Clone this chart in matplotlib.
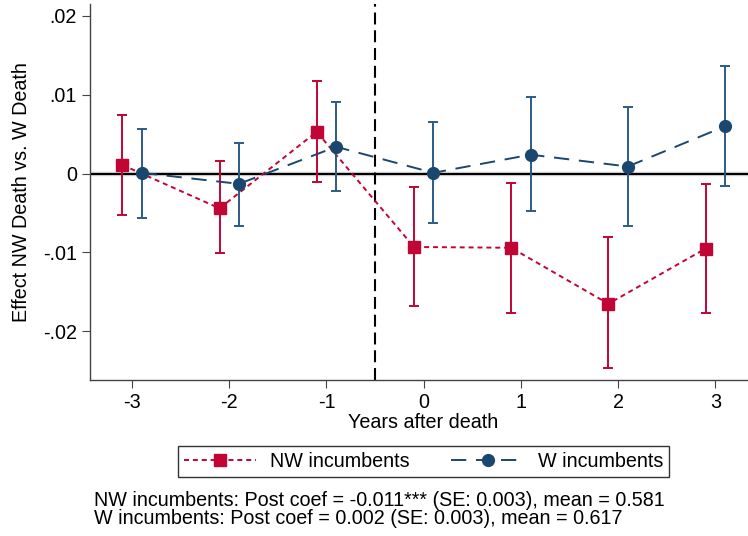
import numpy as np
import matplotlib
matplotlib.use('Agg')
import matplotlib.pyplot as plt
from matplotlib.lines import Line2D

plt.rcParams['font.family'] = ['Liberation Sans', 'DejaVu Sans']
plt.rcParams['lines.scale_dashes'] = False

# event-study estimates by years relative to death
years = np.array([-3, -2, -1, 0, 1, 2, 3])

nw_coef = [0.0011, -0.0044, 0.0053, -0.0093, -0.0094, -0.0165, -0.0095]
nw_lo = [-0.0052, -0.0101, -0.0011, -0.0168, -0.0177, -0.0247, -0.0177]
nw_hi = [0.0074, 0.0016, 0.0118, -0.0017, -0.0012, -0.0080, -0.0013]

w_coef = [0.0001, -0.0013, 0.0034, 0.0001, 0.0024, 0.0009, 0.0060]
w_lo = [-0.0056, -0.0066, -0.0022, -0.0063, -0.0048, -0.0067, -0.0016]
w_hi = [0.0056, 0.0039, 0.0091, 0.0065, 0.0097, 0.0085, 0.0136]

yticks = [-0.02, -0.01, 0, 0.01, 0.02]
ytick_labels = ['-.02', '-.01', '0', '.01', '.02']

notes = ['NW incumbents: Post coef = -0.011*** (SE: 0.003), mean = 0.581',
         'W incumbents: Post coef = 0.002 (SE: 0.003), mean = 0.617']

red = '#c10534'
navy = '#1a476f'
fs = 14.2


def main():
    fig = plt.figure(figsize=(7.48, 5.36), dpi=100)
    ax = fig.add_axes([90 / 748, 1 - 380.3 / 536, 1 - 90 / 748, (380.3 - 4) / 536])

    ax.axhline(0, color='#d0d0d0', lw=3.2, zorder=1)
    ax.axhline(0, color='black', lw=1.5, zorder=2)
    ax.axvline(-0.5, color='black', lw=1.5, dashes=(8.6, 4.2), zorder=2)

    nw_x = years - 0.1
    w_x = years + 0.1
    nw_c = np.array(nw_coef)
    w_c = np.array(w_coef)

    ax.errorbar(nw_x, nw_c, yerr=[nw_c - np.array(nw_lo), np.array(nw_hi) - nw_c],
                fmt='none', ecolor=red, elinewidth=1.4, capsize=3.4, capthick=1.4,
                zorder=3)
    ax.plot(nw_x, nw_c, color=red, lw=1.4, dashes=(3.6, 2.8), zorder=4)
    ax.plot(nw_x, nw_c, ls='none', marker='s', ms=8, color=red, zorder=5)

    ax.errorbar(w_x, w_c, yerr=[w_c - np.array(w_lo), np.array(w_hi) - w_c],
                fmt='none', ecolor='#2b5b86', elinewidth=1.4, capsize=3.4, capthick=1.4,
                zorder=6)
    ax.plot(w_x, w_c, color=navy, lw=1.4, dashes=(11, 7), zorder=7)
    ax.plot(w_x, w_c, ls='none', marker='o', ms=8.5, color=navy, zorder=8)

    ax.set_xlim(-3.432, 3.336)
    ax.set_ylim(-0.0262, 0.0215)
    ax.set_xticks(years)
    ax.set_xticklabels([str(y) for y in years])
    ax.set_yticks(yticks)
    ax.set_yticklabels(ytick_labels)

    for side in ['top', 'right']:
        ax.spines[side].set_visible(False)
    for side in ['left', 'bottom']:
        ax.spines[side].set_color('#444444')
        ax.spines[side].set_linewidth(1.0)
    ax.tick_params(axis='both', length=5.5, width=0.8, color='#444444',
                   labelsize=fs, pad=4)

    fig.text(423 / 748, 1 - 422 / 536, 'Years after death', ha='center', va='center',
             fontsize=fs)
    fig.text(22 / 748, 1 - 192 / 536, 'Effect NW Death vs. W Death', ha='center',
             va='center', rotation=90, fontsize=fs)

    handles = [
        Line2D([], [], color=red, lw=1.4, dashes=(3.6, 2.8), marker='s', ms=8),
        Line2D([], [], color=navy, lw=1.4, dashes=(11, 7), marker='o', ms=8.5),
    ]
    leg = fig.legend(handles, ['NW incumbents', 'W incumbents'], ncol=2,
                     loc='upper center', bbox_to_anchor=(423.5 / 748, 1 - 446 / 536),
                     fontsize=fs, frameon=True, fancybox=False, edgecolor='black',
                     handlelength=3.7, handletextpad=0.7, columnspacing=2.1,
                     borderpad=0.3, borderaxespad=0)
    leg.get_frame().set_linewidth(1.0)

    fig.text(94 / 748, 1 - 500 / 536, notes[0], ha='left', va='center', fontsize=fs)
    fig.text(94 / 748, 1 - 518 / 536, notes[1], ha='left', va='center', fontsize=fs)

    fig.savefig('out.png', dpi=100)


if __name__ == '__main__':
    main()
